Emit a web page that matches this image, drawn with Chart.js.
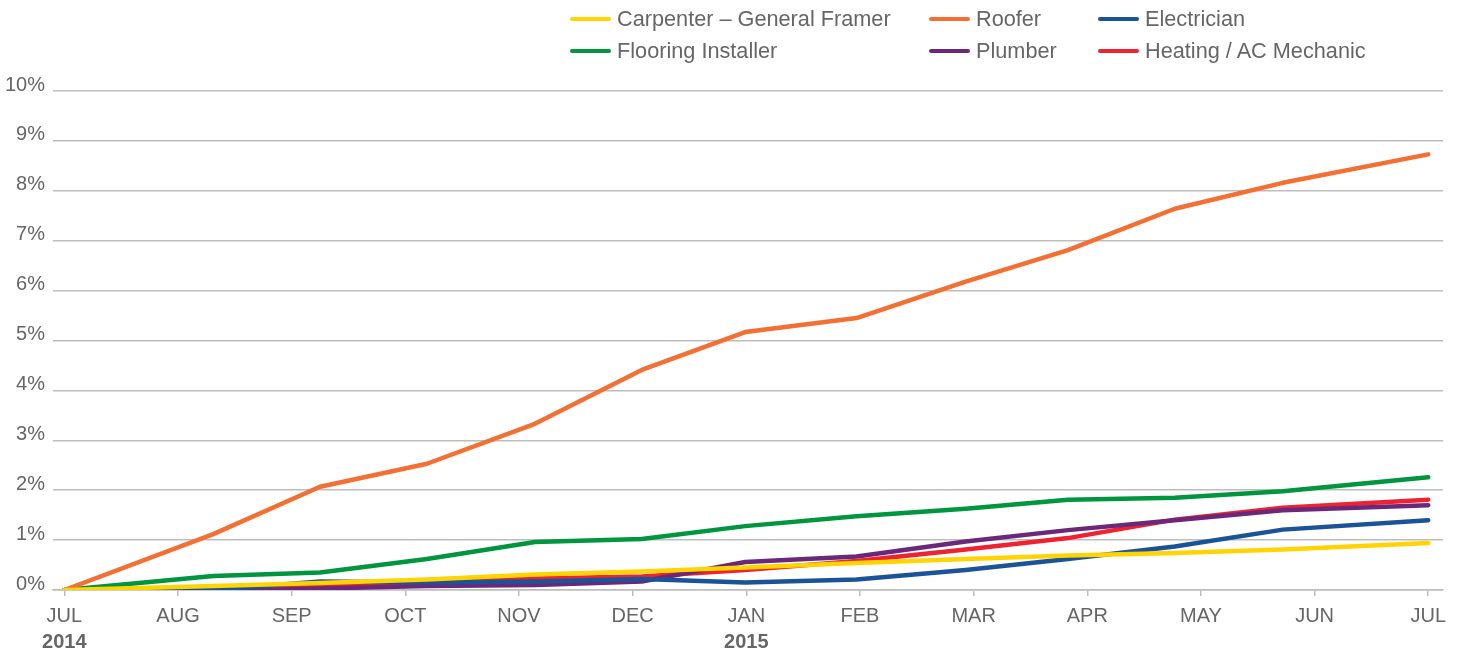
<!DOCTYPE html>
<html>
<head>
<meta charset="utf-8">
<script src="https://cdn.jsdelivr.net/npm/chart.js@4/dist/chart.umd.min.js"></script>
<style>
    body { margin: 0; background: #fff; }
    #wrap { position: relative; width: 1460px; height: 653px; }
    #legend { position: absolute; left: 0; top: 0; width: 1460px; height: 70px; font-family: 'Liberation Sans', Arial, sans-serif; font-size: 21.7px; color: #666; }
    .item { position: absolute; height: 24px; line-height: 24px; white-space: nowrap; }
    .item i { position: absolute; left: 0; top: 10px; width: 41px; height: 4px; border-radius: 2px; }
    .item span { position: absolute; left: 47px; top: 0; }
</style>
</head>
<body>
<div id="wrap">
    <canvas id="chart" width="1460" height="653"></canvas>
    <div id="legend"></div>
</div>
<script>
// Data (percent change since JUL 2014)
const monthLabels = ['JUL', 'AUG', 'SEP', 'OCT', 'NOV', 'DEC', 'JAN', 'FEB', 'MAR', 'APR', 'MAY', 'JUN', 'JUL'];
const yearLabels = [{ at: 0, text: '2014' }, { at: 6, text: '2015' }];

// x position of each survey point, in months after JUL 2014
const pointMonths = [0, 1.31, 2.25, 3.19, 4.14, 5.08, 5.99, 6.97, 7.93, 8.83, 9.77, 10.72, 12];

const carpenter = [0, 0.08, 0.14, 0.21, 0.31, 0.37, 0.45, 0.54, 0.62, 0.69, 0.74, 0.81, 0.94];
const roofer = [0, 1.12, 2.07, 2.53, 3.33, 4.41, 5.17, 5.45, 6.18, 6.81, 7.64, 8.16, 8.73];
const electrician = [-0.02, 0.0, 0.17, 0.15, 0.17, 0.22, 0.15, 0.21, 0.4, 0.62, 0.87, 1.21, 1.4];
const flooring = [0, 0.28, 0.35, 0.62, 0.96, 1.02, 1.28, 1.48, 1.63, 1.81, 1.85, 1.98, 2.26];
const plumber = [0, -0.03, 0.03, 0.08, 0.1, 0.17, 0.56, 0.67, 0.97, 1.2, 1.4, 1.6, 1.7];
const heating = [0, 0.03, 0.1, 0.16, 0.23, 0.27, 0.4, 0.58, 0.81, 1.04, 1.41, 1.65, 1.81];

const colors = {
    yellow: '#FFD400',
    orange: '#F37032',
    blue: '#1B5399',
    green: '#00953F',
    purple: '#6B2779',
    red: '#EE2230'
};

const textColor = '#666666';
const gridColor = '#bdbdbd';
const fontFamily = "'Liberation Sans', Arial, sans-serif";

// legend layout (3 columns, 2 rows)
const legendItems = [
    { label: 'Carpenter \u2013 General Framer', color: colors.yellow, x: 570, y: 7 },
    { label: 'Roofer', color: colors.orange, x: 929, y: 7 },
    { label: 'Electrician', color: colors.blue, x: 1098, y: 7 },
    { label: 'Flooring Installer', color: colors.green, x: 570, y: 39 },
    { label: 'Plumber', color: colors.purple, x: 929, y: 39 },
    { label: 'Heating / AC Mechanic', color: colors.red, x: 1098, y: 39 }
];

const legendEl = document.getElementById('legend');
legendItems.forEach(item => {
    const div = document.createElement('div');
    div.className = 'item';
    div.style.left = item.x + 'px';
    div.style.top = item.y + 'px';
    div.innerHTML = `<i style="background:${item.color}"></i><span>${item.label}</span>`;
    legendEl.appendChild(div);
});

function toPoints(values) {
    return values.map((v, i) => ({ x: pointMonths[i], y: v }));
}

function lineDataset(label, values, color) {
    return {
        label: label,
        data: toPoints(values),
        borderColor: color,
        backgroundColor: color,
        borderWidth: 4.5,
        pointRadius: 0,
        tension: 0,
        fill: false,
        borderCapStyle: 'round',
        borderJoinStyle: 'round'
    };
}

// year labels under the month ticks
const yearPlugin = {
    id: 'yearLabels',
    afterDraw(chart) {
        const ctx = chart.ctx;
        const xScale = chart.scales.x;
        ctx.save();
        ctx.font = 'bold 20px ' + fontFamily;
        ctx.fillStyle = textColor;
        ctx.textAlign = 'center';
        ctx.textBaseline = 'middle';
        yearLabels.forEach(y => {
            ctx.fillText(y.text, xScale.getPixelForValue(y.at), 642);
        });
        ctx.restore();
    }
};

// first dataset is drawn on top
new Chart(document.getElementById('chart'), {
    type: 'line',
    data: {
        datasets: [
            lineDataset('Carpenter \u2013 General Framer', carpenter, colors.yellow),
            lineDataset('Roofer', roofer, colors.orange),
            lineDataset('Flooring Installer', flooring, colors.green),
            lineDataset('Electrician', electrician, colors.blue),
            lineDataset('Plumber', plumber, colors.purple),
            lineDataset('Heating / AC Mechanic', heating, colors.red)
        ]
    },
    options: {
        responsive: false,
        animation: false,
        layout: {
            padding: { top: 91, right: 17, left: 0, bottom: 0 }
        },
        plugins: {
            legend: { display: false },
            tooltip: { enabled: false }
        },
        scales: {
            x: {
                type: 'linear',
                min: -0.1,
                max: 12.13,
                afterBuildTicks: (scale) => {
                    scale.ticks = monthLabels.map((_, i) => ({ value: i }));
                },
                afterFit: (scale) => { scale.height = 63; },
                grid: {
                    drawOnChartArea: false,
                    color: gridColor,
                    lineWidth: 1.5,
                    tickLength: 6
                },
                border: { color: gridColor, width: 1.5 },
                ticks: {
                    autoSkip: false,
                    maxRotation: 0,
                    padding: 8,
                    color: textColor,
                    font: { family: fontFamily, size: 20 },
                    callback: (value, index) => monthLabels[index]
                }
            },
            y: {
                min: 0,
                max: 10,
                afterFit: (scale) => { scale.width = 53; },
                grid: {
                    color: gridColor,
                    lineWidth: 1.5,
                    drawTicks: false
                },
                border: { display: false },
                ticks: {
                    stepSize: 1,
                    padding: 8,
                    labelOffset: -6,
                    color: textColor,
                    font: { family: fontFamily, size: 20 },
                    callback: (value) => value + '%'
                }
            }
        }
    },
    plugins: [yearPlugin]
});
</script>
</body>
</html>
